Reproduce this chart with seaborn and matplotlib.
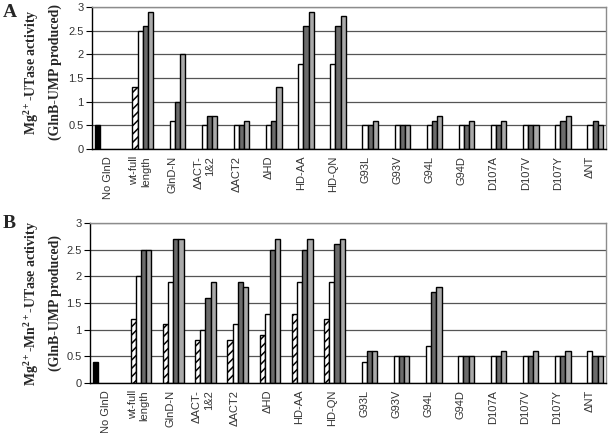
"""
Two-panel grouped bar chart of UTase activity (GlnB-UMP produced)
for GlnD constructs, with Mg2+ alone (A) and Mg2+ plus Mn2+ (B).
"""
import numpy as np
import pandas as pd
import seaborn as sns
import matplotlib.pyplot as plt

sns.set_style('white')
plt.rcParams['font.family'] = ['Liberation Sans', 'DejaVu Sans']
plt.rcParams['mathtext.fontset'] = 'custom'
plt.rcParams['mathtext.rm'] = 'Liberation Serif:bold'
plt.rcParams['mathtext.it'] = 'Liberation Serif:bold'
plt.rcParams['mathtext.bf'] = 'Liberation Serif:bold'
plt.rcParams['hatch.color'] = 'black'
plt.rcParams['hatch.linewidth'] = 1.1

nan = np.nan

constructs = ['No GlnD', 'wt-full\nlength', 'GlnD-N', 'ΔACT-\n1&2', 'ΔACT2', 'ΔHD',
              'HD-AA', 'HD-QN', 'G93L', 'G93V', 'G94L', 'G94D',
              'D107A', 'D107V', 'D107Y', 'ΔNT']
series = ['control', 'hatched', 'open', 'dark', 'light']
colors = {'control': 'black', 'hatched': 'white', 'open': 'white',
          'dark': '#6b6b6b', 'light': '#a9a9a9'}
ytick_labels = ['0', '0.5', '1', '1.5', '2', '2.5', '3']

# Panel A: Mg2+ only
a_control = [0.5, nan, nan, nan, nan, nan, nan, nan, nan, nan, nan, nan, nan, nan, nan, nan]
a_hatched = [nan, 1.3, nan, nan, nan, nan, nan, nan, nan, nan, nan, nan, nan, nan, nan, nan]
a_open = [nan, 2.5, 0.6, 0.5, 0.5, 0.5, 1.8, 1.8, 0.5, 0.5, 0.5, 0.5, 0.5, 0.5, 0.5, 0.5]
a_dark = [nan, 2.6, 1.0, 0.7, 0.5, 0.6, 2.6, 2.6, 0.5, 0.5, 0.6, 0.5, 0.5, 0.5, 0.6, 0.6]
a_light = [nan, 2.9, 2.0, 0.7, 0.6, 1.3, 2.9, 2.8, 0.6, 0.5, 0.7, 0.6, 0.6, 0.5, 0.7, 0.5]

# Panel B: Mg2+ and Mn2+
b_control = [0.4, nan, nan, nan, nan, nan, nan, nan, nan, nan, nan, nan, nan, nan, nan, nan]
b_hatched = [nan, 1.2, 1.1, 0.8, 0.8, 0.9, 1.3, 1.2, nan, nan, nan, nan, nan, nan, nan, nan]
b_open = [nan, 2.0, 1.9, 1.0, 1.1, 1.3, 1.9, 1.9, 0.4, 0.5, 0.7, 0.5, 0.5, 0.5, 0.5, 0.6]
b_dark = [nan, 2.5, 2.7, 1.6, 1.9, 2.5, 2.5, 2.6, 0.6, 0.5, 1.7, 0.5, 0.5, 0.5, 0.5, 0.5]
b_light = [nan, 2.5, 2.7, 1.9, 1.8, 2.7, 2.7, 2.7, 0.6, 0.5, 1.8, 0.5, 0.6, 0.6, 0.6, 0.5]


def long_form(columns):
    """Turns the per-series lists into one long dataframe, dropping gaps."""
    rows = []
    for name, vals in zip(series, columns):
        for construct, v in zip(constructs, vals):
            if not np.isnan(v):
                rows.append((construct, name, v))
    return pd.DataFrame(rows, columns=['construct', 'series', 'value'])


def draw_panel(ax, data):
    sns.barplot(data=data, x='construct', y='value', hue='series',
                order=constructs, hue_order=series, palette=colors,
                saturation=1, width=0.8, edgecolor='black', linewidth=1,
                errorbar=None, legend=False, ax=ax)
    # the containers follow hue_order, so the second one holds the hatched bars
    for bar in ax.containers[series.index('hatched')]:
        bar.set_hatch('////')
        bar.set_edgecolor('black')

    ax.set_xlim(-0.5, len(constructs) - 0.5)
    ax.set_ylim(0, 3)
    ax.set_yticks(np.arange(0, 3.01, 0.5))
    ax.set_yticklabels(ytick_labels, fontsize=8, color='#333333')
    ax.set_xticks(range(len(constructs)))
    ax.set_xticklabels(constructs, rotation=90, fontsize=8, color='#333333')
    for lab in ax.get_xticklabels():
        lab.set_multialignment('right')
    ax.set_xticks(np.arange(-0.5, len(constructs)), minor=True)
    ax.tick_params(axis='x', which='major', length=0, pad=5)
    ax.tick_params(axis='x', which='minor', length=4, width=0.8,
                   color='black', direction='out')
    ax.tick_params(axis='y', length=4, width=0.8, color='black',
                   direction='out', pad=2, left=True)
    ax.set_xlabel('')
    ax.set_ylabel('')

    ax.set_axisbelow(True)
    ax.yaxis.grid(True, color='#555555', linewidth=0.9)
    ax.xaxis.grid(False)
    for side in ['top', 'right']:
        ax.spines[side].set_color('#8c8c8c')
        ax.spines[side].set_linewidth(1)
    for side in ['left', 'bottom']:
        ax.spines[side].set_color('black')
        ax.spines[side].set_linewidth(1)


fig = plt.figure(figsize=(6.08, 4.33), dpi=100)
ax_a = fig.add_axes([0.1513, 0.6559, 0.8454, 0.3279])
ax_b = fig.add_axes([0.148, 0.1155, 0.8487, 0.3695])

draw_panel(ax_a, long_form([a_control, a_hatched, a_open, a_dark, a_light]))
draw_panel(ax_b, long_form([b_control, b_hatched, b_open, b_dark, b_light]))

label_font = dict(family='Liberation Serif', weight='bold', size=10,
                  rotation=90, ha='center', va='center')
fig.text(0.0526, 0.834, r'Mg$^{2+}$-UTase activity', **label_font)
fig.text(0.0905, 0.834, '(GlnB-UMP produced)', **label_font)
fig.text(0.0526, 0.300, r'Mg$^{2+}$-Mn$^{2+}$-UTase activity', **label_font)
fig.text(0.0905, 0.300, '(GlnB-UMP produced)', **label_font)

letter_font = dict(family='Liberation Serif', weight='bold', size=14,
                   ha='left', va='top')
fig.text(0.004, 0.99, 'A', **letter_font)
fig.text(0.004, 0.503, 'B', **letter_font)

fig.savefig('out.png', dpi=100)
